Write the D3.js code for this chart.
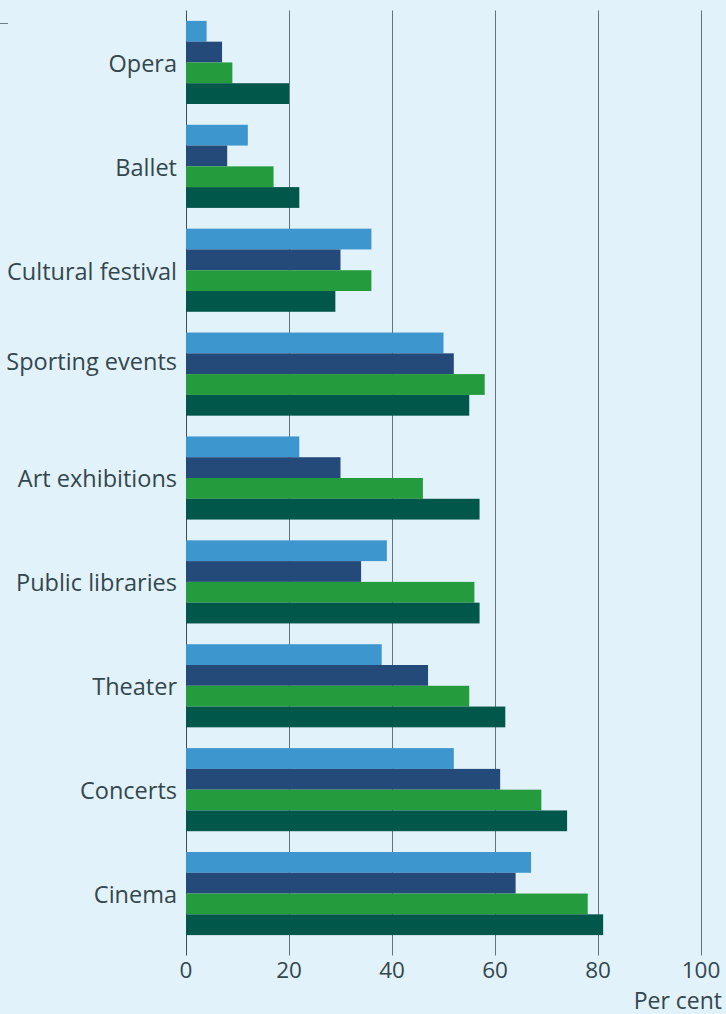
<!DOCTYPE html>
<html>
<head>
<meta charset="utf-8">
<script src="https://cdn.jsdelivr.net/npm/d3@7"></script>
<style>
  html, body { margin: 0; padding: 0; background: #e2f2fa; }
  svg { display: block; font-family: "Open Sans", "Noto Sans", sans-serif; }
</style>
</head>
<body>
<svg id="chart" width="726" height="1014"></svg>
<script>
// Share of population attending each kind of cultural event (per cent)
const categories = ["Opera", "Ballet", "Cultural festival", "Sporting events", "Art exhibitions",
                    "Public libraries", "Theater", "Concerts", "Cinema"];
const seriesNames = ["Series 1", "Series 2", "Series 3", "Series 4"];
const series1 = [4, 12, 36, 50, 22, 39, 38, 52, 67];
const series2 = [7, 8, 30, 52, 30, 34, 47, 61, 64];
const series3 = [9, 17, 36, 58, 46, 56, 55, 69, 78];
const series4 = [20, 22, 29, 55, 57, 57, 62, 74, 81];
const xTicks = [0, 20, 40, 60, 80, 100];
const seriesColors = ["#3d96ce", "#244a7a", "#249b3c", "#00574a"];

const allSeries = [series1, series2, series3, series4];

const svg = d3.select("#chart");
const margin = { left: 186, right: 25, top: 10.5, bottom: 68.5 };
const W = 726, H = 1014;

const x = d3.scaleLinear().domain([0, 100]).range([margin.left, W - margin.right]);
const y = d3.scaleBand().domain(categories)
  .range([margin.top, H - margin.bottom])
  .paddingInner(0.2).paddingOuter(0.1);
const ySub = d3.scaleBand().domain(d3.range(seriesNames.length)).range([0, y.bandwidth()]);

// small marker at the top left
svg.append("line").attr("x1", 0).attr("x2", 8).attr("y1", 23.5).attr("y2", 23.5)
  .attr("stroke", "#6b7f84").attr("stroke-width", 1);

// vertical grid lines with tick extensions below the plot
const gridBottom = H - margin.bottom;
svg.append("g").selectAll("line").data(xTicks).join("line")
  .attr("x1", d => Math.round(x(d)) + 0.5).attr("x2", d => Math.round(x(d)) + 0.5)
  .attr("y1", margin.top).attr("y2", gridBottom + 10)
  .attr("stroke", d => d === 0 ? "#3b4f55" : "#627479")
  .attr("stroke-width", 1);

// bars
const groups = svg.append("g").selectAll("g").data(categories).join("g")
  .attr("transform", d => `translate(0,${y(d)})`);
groups.selectAll("rect")
  .data((c, i) => allSeries.map((s, k) => ({ k, v: s[i] })))
  .join("rect")
  .attr("x", x(0))
  .attr("y", d => ySub(d.k))
  .attr("width", d => x(d.v) - x(0))
  .attr("height", ySub.bandwidth())
  .attr("fill", d => seriesColors[d.k]);

// category labels (the "Sporting events" label sits a little higher)
svg.append("g").selectAll("text").data(categories).join("text")
  .attr("x", 177)
  .attr("y", d => y(d) + y.bandwidth() / 2 + (d === "Sporting events" ? -4 : 9.3))
  .attr("text-anchor", "end")
  .attr("font-size", 23.5)
  .attr("fill", "#33474d")
  .text(d => d);

// x tick labels
svg.append("g").selectAll("text").data(xTicks).join("text")
  .attr("x", d => x(d))
  .attr("y", 977.5)
  .attr("text-anchor", "middle")
  .attr("font-size", 22.5)
  .attr("fill", "#33474d")
  .text(d => d);

svg.append("text")
  .attr("x", 722).attr("y", 1008.5)
  .attr("text-anchor", "end")
  .attr("font-size", 23)
  .attr("fill", "#33474d")
  .text("Per cent");
</script>
</body>
</html>
